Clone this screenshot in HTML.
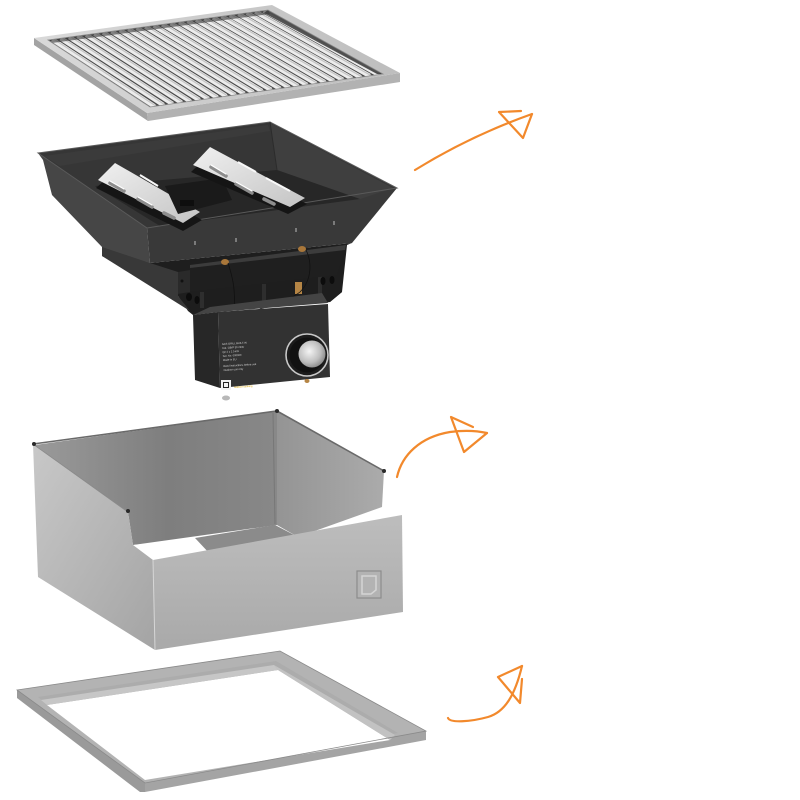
<!DOCTYPE html>
<html>
<head>
<meta charset="utf-8">
<style>
  html, body { margin: 0; padding: 0; background: #ffffff; }
  body { width: 800px; height: 800px; overflow: hidden; }
  svg { display: block; }
</style>
</head>
<body>
<svg width="800" height="800" viewBox="0 0 800 800" xmlns="http://www.w3.org/2000/svg">
  <defs>
    <linearGradient id="gFrameTop" x1="0" y1="0" x2="1" y2="0">
      <stop offset="0" stop-color="#d9d9d9"/>
      <stop offset="1" stop-color="#bdbdbd"/>
    </linearGradient>
    <linearGradient id="gBackWall" x1="0" y1="0" x2="1" y2="0">
      <stop offset="0" stop-color="#9a9a9a"/>
      <stop offset="0.55" stop-color="#7e7e7e"/>
      <stop offset="1" stop-color="#888888"/>
    </linearGradient>
    <linearGradient id="gRightWall" x1="0" y1="0" x2="1" y2="0">
      <stop offset="0" stop-color="#949494"/>
      <stop offset="1" stop-color="#ababab"/>
    </linearGradient>
    <linearGradient id="gLeftWall" x1="0" y1="0" x2="1" y2="1">
      <stop offset="0" stop-color="#c8c8c8"/>
      <stop offset="1" stop-color="#a4a4a4"/>
    </linearGradient>
    <linearGradient id="gFrontWall" x1="0" y1="0" x2="0" y2="1">
      <stop offset="0" stop-color="#bdbdbd"/>
      <stop offset="1" stop-color="#a9a9a9"/>
    </linearGradient>
    <linearGradient id="gPlate" x1="0" y1="0" x2="1" y2="1">
      <stop offset="0" stop-color="#f0f0f0"/>
      <stop offset="1" stop-color="#c4c4c4"/>
    </linearGradient>
    <radialGradient id="gKnob" cx="0.4" cy="0.4" r="0.7">
      <stop offset="0" stop-color="#f4f4f4"/>
      <stop offset="0.6" stop-color="#bdbdbd"/>
      <stop offset="1" stop-color="#7a7a7a"/>
    </radialGradient>
    <clipPath id="grateClip">
      <polygon points="48,40 268,10 383,74 150,107"/>
    </clipPath>
  </defs>

  <!-- ================= GRILL GRATE ================= -->
  <polygon points="34,38 147,113 148,121 34,45" fill="#a3a3a3"/>
  <polygon points="147,113 400,73 400,82 148,121" fill="#b2b2b2"/>
  <polygon points="34,38 272,5 400,73 147,113" fill="url(#gFrameTop)"/>
  <polygon points="48,40 268,10 383,74 150,107" fill="#4a4a4a"/>
  <g clip-path="url(#grateClip)" stroke="#ececec" stroke-width="4.6">
    <line x1="52.2" y1="39.4" x2="154.5" y2="106.4"/>
    <line x1="60.7" y1="38.3" x2="163.4" y2="105.1"/>
    <line x1="69.2" y1="37.1" x2="172.4" y2="103.8"/>
    <line x1="77.6" y1="36.0" x2="181.4" y2="102.6"/>
    <line x1="86.1" y1="34.8" x2="190.3" y2="101.3"/>
    <line x1="94.5" y1="33.7" x2="199.3" y2="100.0"/>
    <line x1="103.0" y1="32.5" x2="208.3" y2="98.8"/>
    <line x1="111.5" y1="31.3" x2="217.2" y2="97.5"/>
    <line x1="119.9" y1="30.2" x2="226.2" y2="96.2"/>
    <line x1="128.4" y1="29.0" x2="235.1" y2="94.9"/>
    <line x1="136.8" y1="27.9" x2="244.1" y2="93.7"/>
    <line x1="145.3" y1="26.7" x2="253.1" y2="92.4"/>
    <line x1="153.8" y1="25.6" x2="262.0" y2="91.1"/>
    <line x1="162.2" y1="24.4" x2="271.0" y2="89.9"/>
    <line x1="170.7" y1="23.3" x2="279.9" y2="88.6"/>
    <line x1="179.2" y1="22.1" x2="288.9" y2="87.3"/>
    <line x1="187.6" y1="21.0" x2="297.9" y2="86.1"/>
    <line x1="196.1" y1="19.8" x2="306.8" y2="84.8"/>
    <line x1="204.5" y1="18.7" x2="315.8" y2="83.5"/>
    <line x1="213.0" y1="17.5" x2="324.8" y2="82.3"/>
    <line x1="221.5" y1="16.3" x2="333.7" y2="81.0"/>
    <line x1="229.9" y1="15.2" x2="342.7" y2="79.7"/>
    <line x1="238.4" y1="14.0" x2="351.6" y2="78.4"/>
    <line x1="246.8" y1="12.9" x2="360.6" y2="77.2"/>
    <line x1="255.3" y1="11.7" x2="369.6" y2="75.9"/>
    <line x1="263.8" y1="10.6" x2="378.5" y2="74.6"/>
  </g>
  <g clip-path="url(#grateClip)" stroke="#c4c4c4" stroke-width="1.2">
    <line x1="54.2" y1="39.4" x2="156.5" y2="106.4"/>
    <line x1="62.7" y1="38.3" x2="165.4" y2="105.1"/>
    <line x1="71.2" y1="37.1" x2="174.4" y2="103.8"/>
    <line x1="79.6" y1="36.0" x2="183.4" y2="102.6"/>
    <line x1="88.1" y1="34.8" x2="192.3" y2="101.3"/>
    <line x1="96.5" y1="33.7" x2="201.3" y2="100.0"/>
    <line x1="105.0" y1="32.5" x2="210.3" y2="98.8"/>
    <line x1="113.5" y1="31.3" x2="219.2" y2="97.5"/>
    <line x1="121.9" y1="30.2" x2="228.2" y2="96.2"/>
    <line x1="130.4" y1="29.0" x2="237.1" y2="94.9"/>
    <line x1="138.8" y1="27.9" x2="246.1" y2="93.7"/>
    <line x1="147.3" y1="26.7" x2="255.1" y2="92.4"/>
    <line x1="155.8" y1="25.6" x2="264.0" y2="91.1"/>
    <line x1="164.2" y1="24.4" x2="273.0" y2="89.9"/>
    <line x1="172.7" y1="23.3" x2="281.9" y2="88.6"/>
    <line x1="181.2" y1="22.1" x2="290.9" y2="87.3"/>
    <line x1="189.6" y1="21.0" x2="299.9" y2="86.1"/>
    <line x1="198.1" y1="19.8" x2="308.8" y2="84.8"/>
    <line x1="206.5" y1="18.7" x2="317.8" y2="83.5"/>
    <line x1="215.0" y1="17.5" x2="326.8" y2="82.3"/>
    <line x1="223.5" y1="16.3" x2="335.7" y2="81.0"/>
    <line x1="231.9" y1="15.2" x2="344.7" y2="79.7"/>
    <line x1="240.4" y1="14.0" x2="353.6" y2="78.4"/>
    <line x1="248.8" y1="12.9" x2="362.6" y2="77.2"/>
    <line x1="257.3" y1="11.7" x2="371.6" y2="75.9"/>
    <line x1="265.8" y1="10.6" x2="380.5" y2="74.6"/>
  </g>
  <polygon points="268,10 383,74 377,74 264,13" fill="#3a3a3a" opacity="0.85"/>
  <polygon points="48,40 268,10 270,14 52,43" fill="#3a3a3a" opacity="0.6"/>
  <polygon points="48,40 268,10 383,74 150,107" fill="none" stroke="#8a8a8a" stroke-width="0.8"/>

  <!-- ================= BURNER TRAY ================= -->
  <!-- dark backing for lower assembly (fills gaps) -->
  <polygon points="102,245 150,263 352,243 347,245 342,292 330,302 216,312 193,315 188,311 178,296 102,256" fill="#1e1e1e"/>
  <!-- region between bar and box -->
  <polygon points="180,288 342,265 342,292 330,302 216,312 194,312 184,300" fill="#1e1e1e"/>
  <g fill="#2e2e2e">
    <rect x="200" y="292" width="4" height="16"/>
    <rect x="262" y="284" width="4" height="18"/>
    <rect x="318" y="276" width="4" height="20"/>
  </g>
  <ellipse cx="189" cy="297" rx="3" ry="4" fill="#0c0c0c"/>
  <ellipse cx="197" cy="300" rx="2.5" ry="4" fill="#0c0c0c"/>
  <ellipse cx="323" cy="281" rx="2.5" ry="4" fill="#0c0c0c"/>
  <ellipse cx="332" cy="280" rx="2.5" ry="4" fill="#0c0c0c"/>
  <!-- skirt -->
  <polygon points="102,245 150,263 178,272 178,296 190,311 102,256" fill="#383838"/>
  <!-- bracket flange -->
  <polygon points="178,272 190,270 190,292 178,294" fill="#2a2a2a"/>
  <circle cx="182" cy="281" r="1.5" fill="#111"/>
  <!-- bracket bar -->
  <polygon points="190,267 345,250 337,275 190,292" fill="#1f1f1f"/>
  <polygon points="190,265 346,245 345,250 190,268" fill="#3c3c3c"/>

  <!-- left face -->
  <polygon points="38,153 147,228 150,263 102,247 52,195 43,160" fill="#464646"/>
  <!-- front face -->
  <polygon points="147,228 397,188 352,243 150,263" fill="#393939"/>
  <!-- interior -->
  <polygon points="38,153 270,122 397,188 147,228" fill="#363636"/>
  <polygon points="270,123 393,188 360,199 277,170" fill="#3f3f3f"/>
  <polygon points="95,186 277,170 360,199 160,226" fill="#272727"/>
  <polygon points="44,156 268,125 270,131 60,166" fill="#3b3b3b"/>
  <!-- rim outline -->
  <polygon points="38,153 270,122 397,188 147,228" fill="none" stroke="#5a5a5a" stroke-width="1"/>
  <line x1="270" y1="122" x2="277" y2="170" stroke="#2c2c2c" stroke-width="1"/>

  <!-- burner 1 -->
  <polygon points="96,188 183,231 202,220 115,171" fill="#151515"/>
  <polygon points="98,180 115,163 200,212 183,223" fill="url(#gPlate)"/>
  <g stroke="#8d8d8d" stroke-width="3.5" stroke-linecap="round">
    <line x1="110" y1="183" x2="124" y2="191"/>
    <line x1="138" y1="199" x2="152" y2="207"/>
    <line x1="164" y1="213" x2="174" y2="218"/>
  </g>
  <g stroke="#ffffff" stroke-width="1.2" stroke-linecap="round">
    <line x1="110" y1="181" x2="124" y2="189"/>
    <line x1="138" y1="197" x2="152" y2="205"/>
  </g>
  <line x1="140" y1="175" x2="158" y2="186" stroke="#f8f8f8" stroke-width="2"/>
  <line x1="170" y1="193" x2="190" y2="205" stroke="#f8f8f8" stroke-width="2"/>
  <!-- center parts -->
  <polygon points="165,186 222,178 232,200 178,214" fill="#1a1a1a"/>
  <rect x="180" y="200" width="14" height="6" fill="#0e0e0e"/>
  <!-- burner 2 -->
  <polygon points="191,172 288,214 307,204 210,154" fill="#151515"/>
  <polygon points="193,165 210,147 305,198 290,207" fill="url(#gPlate)"/>
  <g stroke="#8d8d8d" stroke-width="3.5" stroke-linecap="round">
    <line x1="211" y1="167" x2="226" y2="176"/>
    <line x1="236" y1="184" x2="252" y2="193"/>
    <line x1="264" y1="199" x2="274" y2="204"/>
  </g>
  <g stroke="#ffffff" stroke-width="1.2" stroke-linecap="round">
    <line x1="211" y1="165" x2="226" y2="174"/>
    <line x1="236" y1="182" x2="252" y2="191"/>
  </g>
  <line x1="238" y1="162" x2="256" y2="172" stroke="#f8f8f8" stroke-width="2"/>
  <line x1="266" y1="178" x2="290" y2="191" stroke="#f8f8f8" stroke-width="2"/>

  <!-- holes on front face -->
  <g stroke="#bdbdbd" stroke-width="1">
    <line x1="195" y1="241" x2="195" y2="245"/>
    <line x1="236" y1="238" x2="236" y2="242"/>
    <line x1="296" y1="228" x2="296" y2="232"/>
    <line x1="334" y1="221" x2="334" y2="225"/>
  </g>

  <!-- brass fittings -->
  <ellipse cx="225" cy="262" rx="4" ry="3" fill="#a9773a"/>
  <ellipse cx="302" cy="249" rx="4" ry="3" fill="#a9773a"/>
  <rect x="295" y="282" width="7" height="12" fill="#b58545"/>
  <!-- wires -->
  <path d="M228,263 C232,275 236,290 234,310" fill="none" stroke="#111" stroke-width="0.8"/>
  <path d="M306,250 C312,262 312,280 300,292 C290,300 270,305 258,310" fill="none" stroke="#111" stroke-width="0.8"/>

  <!-- control box -->
  <polygon points="193,315 210,307 322,293 328,303 218,312" fill="#444444"/>
  <polygon points="193,315 218,312 220,388 195,380" fill="#272727"/>
  <polygon points="218,312 328,304 330,377 220,388" fill="#323232"/>
  <!-- knob -->
  <circle cx="307" cy="355" r="21" fill="#1c1c1c" stroke="#c8c8c8" stroke-width="1.6"/>
  <circle cx="307" cy="355" r="17.5" fill="#111"/>
  <circle cx="312" cy="354" r="13.5" fill="url(#gKnob)"/>
  <!-- label text -->
  <g font-family="Liberation Sans, sans-serif" font-size="2.6" fill="#d6d6d6" transform="rotate(-3.5 222 345)">
    <text x="222" y="345">GAS GRILL BUILT-IN</text>
    <text x="222" y="349">Cat. I3B/P 30 mbar</text>
    <text x="222" y="353">Qn 2 x 2.0 kW</text>
    <text x="222" y="357">Ser. No. 000000</text>
    <text x="222" y="361">Made in EU</text>
    <text x="222" y="367">Read instructions before use</text>
    <text x="222" y="371">Outdoor use only</text>
  </g>
  <rect x="221" y="380" width="10" height="10" fill="#f2f2f2"/>
  <rect x="223.5" y="382.5" width="5" height="5" fill="none" stroke="#222" stroke-width="1"/>
  <text x="234" y="388" font-family="Liberation Sans, sans-serif" font-size="2.6" fill="#d8a400" transform="rotate(-3.5 234 388)">outdoor cooking</text>
  <!-- feet -->
  <ellipse cx="226" cy="398" rx="4" ry="2.5" fill="#b8b8b8"/>
  <ellipse cx="307" cy="381" rx="2.5" ry="2" fill="#b58545"/>

  <!-- ================= STAINLESS HOUSING ================= -->
  <polygon points="35,445 277,411 277,525 133,545 128,512" fill="url(#gBackWall)"/>
  <polygon points="277,411 384,471 382,507 298,537 277,525" fill="url(#gRightWall)"/>
  <line x1="273" y1="413" x2="275" y2="524" stroke="#777" stroke-width="1"/>
  <polygon points="195,538 275,525 298,537 210,554" fill="#8b8b8b"/>
  <line x1="210" y1="554" x2="298" y2="537" stroke="#6e6e6e" stroke-width="1"/>
  <polygon points="133,545 195,539 198,548 210,554 153,560" fill="#ffffff"/>
  <polygon points="33,444 128,512 133,545 153,560 155,650 38,577" fill="url(#gLeftWall)"/>
  <polygon points="153,560 402,515 403,612 155,650" fill="url(#gFrontWall)"/>
  <line x1="153" y1="560" x2="155" y2="650" stroke="#d6d6d6" stroke-width="1"/>
  <!-- top rims -->
  <polyline points="33,444 277,411 384,471" fill="none" stroke="#6a6a6a" stroke-width="1.6"/>
  <line x1="33" y1="444" x2="128" y2="512" stroke="#8a8a8a" stroke-width="1"/>
  <g fill="#2a2a2a">
    <circle cx="34" cy="444" r="2"/>
    <circle cx="277" cy="411" r="2"/>
    <circle cx="384" cy="471" r="2"/>
    <circle cx="128" cy="511" r="2"/>
  </g>
  <!-- logo emboss -->
  <rect x="357" y="571" width="24" height="27" fill="#b3b3b3" stroke="#8c8c8c" stroke-width="1.2"/>
  <path d="M362,576 L376,576 L376,590 L371,594 L362,594 Z" fill="none" stroke="#d4d4d4" stroke-width="1.5"/>

  <!-- ================= BOTTOM FRAME ================= -->
  <polygon points="17,690 145,783 145,792 140,792 17,698" fill="#9a9a9a"/>
  <polygon points="145,783 426,731 426,740 145,792" fill="#a4a4a4"/>
  <polygon points="17,690 280,651 426,731 145,783" fill="#b3b3b3"/>
  <polygon points="38,697 276,661 398,733 144,779" fill="#acacac"/>
  <polygon points="47,705 278,670 390,740 145,780" fill="#ffffff"/>
  <polygon points="41,700 274,665 278,670 47,705" fill="#c6c6c6"/>
  <polygon points="274,665 395,735 390,740 278,670" fill="#c2c2c2"/>
  <polygon points="17,690 280,651 426,731 145,783" fill="none" stroke="#8a8a8a" stroke-width="0.8"/>

  <!-- ================= ARROWS ================= -->
  <g fill="none" stroke="#f2892c" stroke-width="2.2" stroke-linecap="round" stroke-linejoin="round">
    <path d="M415,170 Q470,136 532,114"/>
    <polyline points="521,111 499,112 523,138 532,114"/>
    <path d="M397,477 C402,455 420,437 450,432 C465,430 478,431 487,433"/>
    <polyline points="473,427 451,417 464,452 487,433"/>
    <path d="M448,718 C450,723 470,722 488,717 C505,712 515,695 522,666"/>
    <polyline points="522,679 520,703 498,677 522,666"/>
  </g>
</svg>
</body>
</html>
